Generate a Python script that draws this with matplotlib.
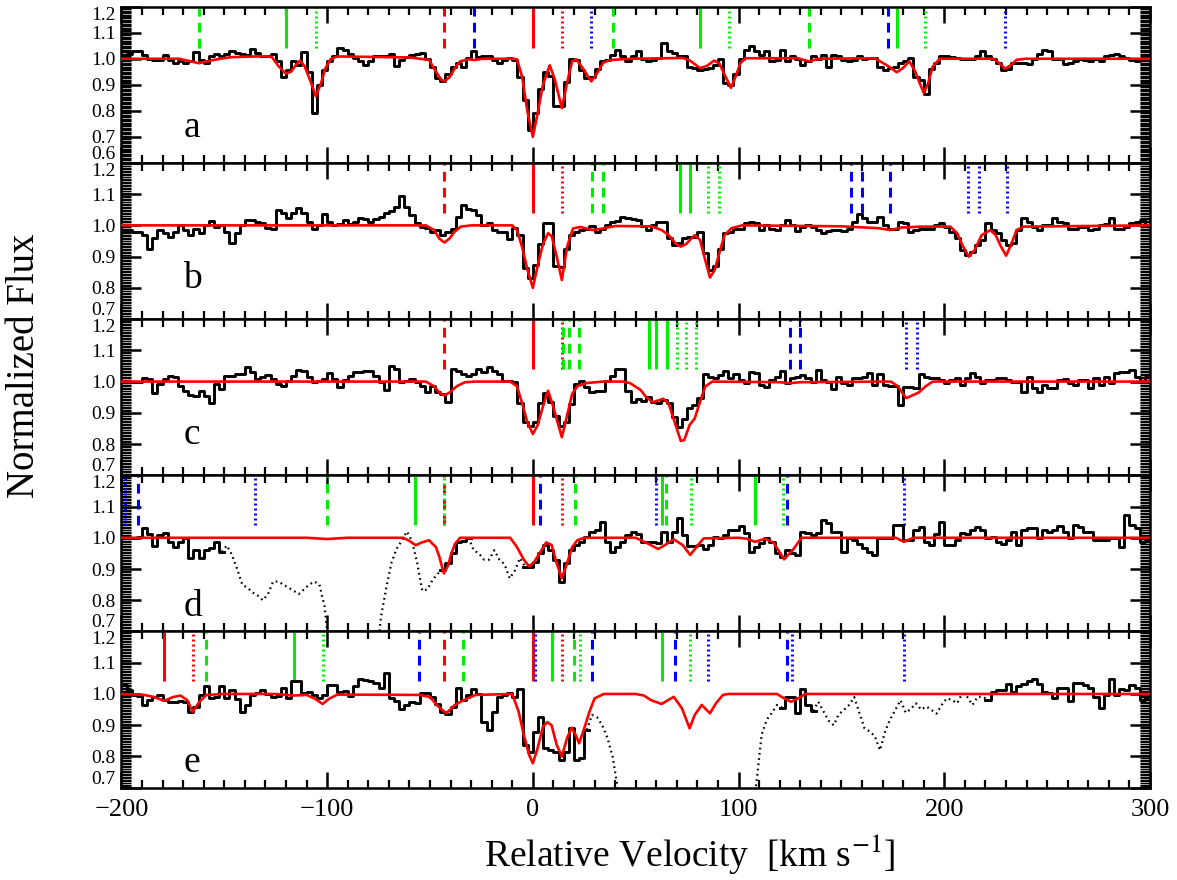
import matplotlib.pyplot as plt
import numpy as np
from matplotlib.ticker import MultipleLocator

plt.rcParams["font.family"] = ["Liberation Serif", "DejaVu Serif"]
plt.rcParams["mathtext.fontset"] = "stix"
plt.rcParams["lines.scale_dashes"] = False

# bin centres of the rebinned spectra (km/s)
velocity = np.arange(-198.75, 300, 2.5)

flux_a = [
    1.00, 1.02, 1.03, 1.03, 1.015, 1.00, 0.995, 0.995, 1.015, 0.995,
    0.985, 0.993, 0.985, 0.99, 1.025, 0.997, 0.985, 1.01, 1.02, 1.012,
    1.02, 1.028, 1.022, 1.02, 1.016, 1.036, 1.022, 1.012, 1.012, 1.018,
    0.99, 0.93, 0.955, 0.99, 0.975, 1.025, 0.95, 0.79, 0.90, 0.955,
    0.99, 1.01, 1.04, 1.035, 1.02, 1.003, 0.99, 0.977, 0.99, 1.012,
    1.01, 1.01, 1.02, 0.973, 0.997, 1.005, 1.015, 1.018, 1.024, 1.0,
    0.97, 0.925, 0.913, 0.94, 0.967, 0.985, 0.97, 1.003, 1.028, 1.008,
    1.01, 1.01, 0.997, 0.985, 0.997, 1.003, 0.995, 0.93, 0.84, 0.727,
    0.79, 0.883, 0.95, 0.935, 0.82, 0.817, 0.91, 1.0, 0.997, 0.955,
    0.925, 0.93, 0.96, 0.99, 0.997, 1.015, 1.034, 1.01, 0.99, 1.01,
    1.028, 1.0, 0.99, 0.997, 1.003, 1.06, 1.028, 1.022, 1.01, 1.01,
    0.97, 0.965, 0.958, 0.96, 0.965, 0.975, 1.0, 0.907, 0.90, 0.94,
    1.0, 1.034, 1.05, 1.028, 1.015, 1.028, 0.99, 0.997, 1.032, 0.99,
    1.01, 1.0, 0.975, 0.99, 1.01, 1.0, 1.015, 0.97, 1.015, 1.01,
    0.997, 0.99, 0.997, 1.01, 1.0, 1.003, 1.003, 0.97, 0.955, 0.963,
    0.97, 0.985, 0.99, 1.003, 0.93, 0.92, 0.866, 0.96, 0.985, 1.01,
    1.012, 1.006, 1.003, 1.0, 1.0, 1.0, 1.01, 1.028, 1.01, 1.0,
    0.985, 0.958, 0.96, 0.985, 0.985, 0.982, 0.98, 1.0, 1.02, 1.034,
    1.03, 1.0, 1.0, 0.98, 0.985, 0.99, 1.0, 0.997, 0.99, 1.0,
    0.99, 1.01, 1.015, 1.02, 1.01, 1.003, 0.997, 0.99, 1.0, 1.0,
]

flux_b = [
    0.985, 0.985, 0.98, 0.98, 0.97, 0.923, 0.96, 0.985, 0.975, 0.962,
    0.98, 1.0, 0.985, 0.97, 0.99, 0.975, 1.0, 1.014, 0.995, 1.0,
    0.98, 0.942, 0.975, 1.0, 1.018, 1.018, 1.012, 1.007, 0.992, 0.99,
    1.05, 1.04, 1.023, 1.04, 1.055, 1.04, 1.01, 0.99, 1.0, 1.037,
    1.012, 1.0, 1.006, 1.018, 1.006, 1.012, 1.023, 1.02, 1.012, 1.02,
    1.028, 1.04, 1.045, 1.06, 1.093, 1.06, 1.034, 1.007, 0.996, 0.993,
    0.98, 0.986, 0.97, 0.978, 0.99, 1.028, 1.066, 1.052, 1.05, 1.034,
    1.0, 1.007, 0.985, 0.98, 0.978, 0.957, 0.992, 0.97, 0.862, 0.83,
    0.873, 0.94, 1.007, 1.007, 0.87, 0.867, 0.925, 0.97, 0.98, 0.985,
    0.99, 0.997, 0.98, 0.99, 1.0, 1.012, 1.015, 1.028, 1.023, 1.02,
    1.017, 0.998, 0.985, 1.0, 1.012, 1.012, 0.96, 0.937, 0.943, 0.96,
    0.964, 0.964, 0.98, 0.91, 0.857, 0.87, 0.923, 0.975, 0.98, 0.99,
    0.99, 1.007, 1.012, 1.007, 0.985, 1.0, 0.99, 0.985, 1.0, 1.018,
    1.0, 0.983, 0.996, 1.0, 0.996, 0.985, 0.975, 0.983, 0.985, 0.985,
    0.983, 0.99, 1.012, 1.036, 1.023, 1.012, 1.012, 1.028, 1.0, 0.99,
    0.99, 1.012, 1.007, 0.98, 0.985, 0.99, 0.99, 0.99, 1.0, 1.008,
    0.996, 0.98, 0.96, 0.92, 0.905, 0.916, 0.937, 0.953, 1.007, 0.985,
    0.975, 0.953, 0.937, 0.943, 0.985, 1.023, 1.012, 0.996, 0.985, 1.0,
    1.0, 1.023, 1.012, 1.007, 0.99, 0.99, 0.996, 0.996, 0.985, 0.99,
    1.0, 1.005, 1.023, 0.99, 0.99, 0.996, 1.007, 1.012, 1.018, 1.0,
]

flux_c = [
    0.998, 0.998, 0.998, 0.998, 1.01, 1.009, 0.964, 0.993, 1.009, 1.017,
    1.014, 0.987, 0.971, 0.957, 0.955, 0.971, 0.953, 0.932, 0.993, 0.976,
    1.017, 1.017, 1.025, 1.025, 1.046, 1.03, 1.009, 1.014, 1.021, 1.009,
    0.993, 0.987, 1.003, 1.019, 1.038, 1.035, 1.014, 0.998, 1.003, 1.009,
    1.028, 1.009, 0.982, 1.006, 1.017, 1.032, 1.032, 1.035, 1.035, 1.017,
    1.0, 0.974, 1.051, 1.04, 0.998, 1.003, 1.009, 0.998, 0.987, 0.968,
    0.987, 0.968, 0.96, 0.936, 1.04, 1.035, 1.025, 1.019, 1.025, 1.04,
    1.03, 1.046, 1.035, 1.025, 1.003, 1.003, 0.998, 0.93, 0.87, 0.859,
    0.87, 0.932, 0.964, 0.935, 0.891, 0.859, 0.872, 0.928, 0.993, 1.003,
    0.982, 0.968, 0.971, 0.971, 1.003, 1.019, 1.04, 1.04, 0.97, 0.936,
    0.944, 0.939, 0.952, 0.934, 0.931, 0.941, 0.931, 0.888, 0.856, 0.88,
    0.915, 0.925, 0.947, 1.024, 1.016, 1.011, 1.021, 1.034, 1.011, 1.024,
    1.005, 0.995, 1.03, 1.027, 0.989, 0.984, 1.005, 1.016, 1.034, 0.995,
    1.011, 1.016, 1.021, 1.011, 1.0, 1.037, 1.005, 1.0, 0.976, 1.016,
    0.995, 0.989, 1.011, 1.011, 1.016, 1.027, 0.989, 1.024, 0.989, 0.987,
    0.987, 0.925, 0.984, 0.984, 0.979, 1.024, 1.016, 1.011, 1.011, 1.005,
    0.995, 1.005, 1.011, 0.989, 1.011, 1.027, 1.016, 0.995, 1.005, 1.005,
    1.011, 1.013, 1.005, 1.0, 1.0, 0.968, 1.016, 0.981, 0.966, 0.989,
    0.981, 0.981, 1.005, 1.009, 0.995, 0.989, 1.005, 1.005, 0.981, 1.011,
    0.989, 1.016, 0.995, 1.027, 1.03, 1.03, 1.037, 1.016, 1.0, 1.016,
]

flux_d = [
    1.0, 1.0, 1.0, 1.003, 1.032, 1.013, 0.973, 1.008, 1.016, 0.987,
    0.97, 0.987, 1.0, 0.934, 0.96, 0.936, 0.96, 0.967, 0.987, 0.955,
    0.975, 0.945, 0.90, 0.85, 0.84, 0.825, 0.815, 0.80, 0.82, 0.86,
    0.86, 0.85, 0.84, 0.83, 0.82, 0.835, 0.85, 0.86, 0.85, 0.78,
    0.62, 0.55, 0.55, 0.55, 0.55, 0.55, 0.55, 0.55, 0.55, 0.60,
    0.75, 0.84, 0.92, 0.965, 0.99, 1.02, 0.99, 0.92, 0.83, 0.835,
    0.865, 0.885, 0.898, 0.918, 0.95, 0.985, 0.99, 1.0, 0.96, 0.95,
    0.93, 0.93, 0.96, 0.93, 0.915, 0.87, 0.895, 0.935, 0.907, 0.907,
    0.923, 0.95, 0.976, 0.962, 0.93, 0.86, 0.92, 0.96, 0.976, 0.987,
    1.003, 1.019, 1.024, 1.05, 0.987, 0.955, 0.97, 0.987, 1.008, 1.02,
    1.013, 0.987, 0.987, 0.987, 0.982, 1.019, 0.987, 1.019, 1.062, 1.008,
    0.973, 0.973, 0.977, 0.963, 0.977, 1.003, 0.998, 1.008, 1.024, 1.024,
    1.037, 1.014, 0.955, 0.971, 0.982, 0.998, 0.987, 0.95, 0.94, 0.961,
    0.95, 0.945, 1.019, 1.014, 1.008, 1.014, 1.058, 1.046, 1.019, 1.019,
    0.955, 0.998, 0.993, 0.98, 0.966, 0.955, 0.945, 0.998, 0.998, 0.998,
    1.04, 1.04, 0.993, 0.993, 1.024, 1.033, 0.987, 0.977, 1.012, 1.051,
    0.977, 0.977, 0.993, 1.014, 1.012, 1.024, 1.033, 1.024, 0.998, 1.003,
    0.987, 0.98, 0.993, 1.019, 0.977, 1.024, 1.03, 1.03, 0.998, 1.024,
    1.019, 1.024, 1.037, 1.019, 0.998, 1.04, 1.033, 1.019, 1.019, 0.993,
    0.993, 0.993, 0.998, 1.0, 0.971, 1.072, 1.04, 1.03, 0.987, 0.99,
]

flux_e = [
    1.029, 1.013, 0.997, 0.995, 0.965, 0.981, 0.991, 0.997, 0.981, 0.973,
    0.973, 0.978, 0.973, 0.943, 0.959, 0.997, 1.024, 0.988, 0.991, 1.024,
    0.988, 1.013, 0.984, 0.941, 0.965, 0.997, 1.002, 1.013, 0.999, 0.991,
    0.995, 1.018, 0.988, 1.04, 1.042, 1.002, 1.007, 0.997, 0.986, 0.997,
    1.029, 1.029, 1.007, 1.01, 0.995, 1.024, 1.048, 1.045, 1.042, 1.034,
    1.02, 1.066, 0.986, 0.978, 0.952, 0.965, 0.973, 0.97, 1.002, 1.002,
    0.991, 0.967, 0.943, 0.935, 0.959, 1.018, 0.981, 0.997, 1.016, 0.999,
    0.911, 0.885, 0.943, 0.991, 0.997, 1.002, 0.991, 1.016, 0.837, 0.815,
    0.879, 0.927, 0.826, 0.821, 0.815, 0.788, 0.815, 0.89, 0.79, 0.794,
    0.885, 0.933, 0.925, 0.90, 0.86, 0.80, 0.70, 0.62, 0.55, 0.55,
    0.55, 0.55, 0.55, 0.55, 0.55, 0.55, 0.55, 0.55, 0.55, 0.55,
    0.55, 0.55, 0.55, 0.55, 0.55, 0.55, 0.55, 0.55, 0.55, 0.55,
    0.55, 0.55, 0.60, 0.72, 0.87, 0.918, 0.94, 0.965, 0.956, 0.991,
    0.991, 0.938, 1.016, 0.965, 0.946, 0.975, 0.945, 0.915, 0.90, 0.935,
    0.949, 0.965, 0.99, 0.94, 0.89, 0.88, 0.865, 0.82, 0.88, 0.92,
    0.949, 0.98, 0.94, 0.952, 0.97, 0.95, 0.96, 0.949, 0.937, 0.965,
    0.986, 0.981, 0.97, 1.002, 0.99, 0.965, 0.991, 0.991, 0.981, 1.007,
    1.013, 1.013, 1.031, 1.007, 1.024, 1.031, 1.04, 1.048, 1.031, 1.007,
    1.002, 0.988, 1.02, 1.018, 0.978, 1.034, 1.034, 1.029, 1.02, 0.991,
    0.954, 0.997, 1.048, 0.997, 1.016, 1.013, 1.029, 1.02, 0.981, 0.99,
]

# velocity ranges blended with other absorption, shown dotted
blended_d = [(-148.75, -46.25), (-28.75, -6.25)]
blended_e = [(28.75, 118.75), (138.75, 218.75)]

# fitted profiles as (velocity, normalized flux)
model_a = [
    (-200, 1.0), (-172, 1.0), (-162.4, 0.983), (-155, 0.996), (-147, 1.006),
    (-130, 1.01), (-126.8, 1.006), (-123.5, 0.97), (-120.1, 0.943), (-117.6, 0.95),
    (-115.1, 0.977), (-113.1, 0.993), (-110.9, 0.97), (-108.4, 0.92), (-105.5, 0.856),
    (-103, 0.906), (-100.8, 0.964), (-98.3, 0.999), (-95, 1.009), (-60, 1.005),
    (-50.5, 0.996), (-47.1, 0.95), (-44.6, 0.92), (-43, 0.913), (-40.4, 0.93),
    (-37.9, 0.964), (-35.4, 0.99), (-31.2, 0.998), (-28.4, 0.995), (-24.5, 1.0),
    (-10, 1.0), (-7.7, 0.998), (-5.2, 0.93), (-2.7, 0.80), (0, 0.70),
    (2.3, 0.79), (4.9, 0.90), (8.2, 0.975), (10.7, 0.92), (14.1, 0.81),
    (16.6, 0.907), (19.1, 0.99), (21.1, 0.998), (24.2, 0.965), (28.4, 0.913),
    (30.9, 0.94), (34.2, 0.985), (37.6, 0.995), (47.3, 1.0), (72.8, 1.003),
    (76.2, 0.994), (81.3, 0.964), (84.7, 0.973), (88.1, 0.993), (90.6, 0.983),
    (93.2, 0.939), (96.3, 0.888), (98.3, 0.926), (100.9, 0.983), (103.4, 1.002),
    (128.9, 1.002), (134.2, 0.99), (139.1, 1.0), (166.3, 1.002), (173.1, 0.97),
    (176.9, 0.948), (179.9, 0.964), (183, 0.99), (185.9, 0.951), (188.4, 0.9),
    (190.1, 0.868), (192.2, 0.907), (194.4, 0.97), (197.8, 1.0), (224.1, 1.0),
    (226.7, 0.983), (229.6, 0.962), (232.7, 0.977), (235.2, 0.996), (239.5, 1.0),
    (300, 1.0),
]

model_b = [
    (-200, 1.0), (-52, 1.0), (-48, 0.985), (-45.5, 0.958), (-43, 0.945),
    (-40.5, 0.958), (-38, 0.98), (-35, 0.996), (-30, 1.0), (-10, 1.0),
    (-7.7, 0.985), (-5.2, 0.93), (-2.7, 0.86), (0, 0.80), (2.3, 0.87),
    (4.9, 0.94), (7.4, 0.975), (9.2, 0.965), (11.6, 0.90), (14.1, 0.825),
    (16.6, 0.93), (19.5, 0.99), (23, 0.995), (29, 0.985), (34, 0.99),
    (40, 0.998), (57.5, 0.997), (62.6, 0.985), (66, 0.969), (69.4, 0.942),
    (71.9, 0.932), (74.5, 0.94), (78.7, 0.969), (81.3, 0.953), (83.8, 0.889),
    (86.1, 0.833), (88.4, 0.857), (90.6, 0.91), (93.2, 0.969), (96.6, 0.991),
    (101.7, 1.0), (150, 0.997), (168, 0.991), (173.8, 0.985), (179.1, 0.993),
    (188.4, 0.996), (202.9, 0.996), (206.3, 0.975), (208.8, 0.937), (211.9, 0.90),
    (214.8, 0.921), (218.2, 0.969), (222.4, 0.985), (225, 0.969), (227.6, 0.932),
    (230.1, 0.903), (232.7, 0.942), (235.2, 0.985), (238.6, 0.996), (300, 1.0),
]

model_c = [
    (-200, 1.0), (-52, 1.0), (-48, 0.985), (-45.5, 0.965), (-43, 0.955),
    (-40.5, 0.965), (-37, 0.985), (-33, 0.998), (-28, 1.0), (-11, 1.0),
    (-7.7, 0.985), (-5.2, 0.93), (-2.7, 0.87), (0, 0.832), (2.3, 0.86),
    (4.9, 0.92), (7.4, 0.971), (9.9, 0.92), (12, 0.87), (14.1, 0.822),
    (16.6, 0.89), (19.1, 0.96), (21.6, 0.985), (25.8, 0.995), (34, 1.0),
    (44, 1.0), (47.3, 0.995), (52.4, 0.973), (54.9, 0.952), (58.3, 0.934),
    (63.4, 0.945), (66, 0.93), (69.4, 0.861), (71.9, 0.81), (73.6, 0.813),
    (76.2, 0.861), (78.7, 0.882), (81.3, 0.936), (83.8, 0.984), (87.2, 1.0),
    (120, 0.998), (125, 0.995), (130, 0.998), (174, 1.0), (177.5, 0.985),
    (180, 0.96), (181.6, 0.947), (184.2, 0.955), (187.6, 0.965), (191, 0.985),
    (194.4, 1.0), (300, 1.0),
]

model_d = [
    (-200, 1.0), (-110, 1.0), (-100, 0.996), (-90, 1.0), (-63, 1.0),
    (-60, 0.99), (-57, 0.976), (-54, 0.985), (-50.5, 0.992), (-47.1, 0.97),
    (-45.5, 0.94), (-43.3, 0.886), (-41.3, 0.91), (-39.6, 0.95), (-37.9, 0.98),
    (-35.4, 1.0), (-11, 1.0), (-7.7, 0.97), (-4.4, 0.93), (-1.8, 0.908),
    (0.7, 0.923), (3.7, 0.955), (6.5, 0.985), (9.1, 0.977), (11.6, 0.918),
    (14.1, 0.87), (16.6, 0.918), (19.1, 0.97), (21.6, 0.992), (25, 1.0),
    (50, 1.0), (55.8, 0.982), (60.9, 0.964), (64.3, 0.977), (68.5, 0.995),
    (72.8, 0.977), (76.5, 0.945), (80.4, 0.977), (83, 0.998), (100, 1.0),
    (104, 0.997), (108, 0.987), (112.8, 0.997), (117, 0.985), (122.1, 0.931),
    (126.4, 0.961), (130.6, 1.0), (176.5, 1.0), (180.4, 0.987), (185, 1.0),
    (300, 1.0),
]

model_e = [
    (-200, 1.0), (-189, 0.997), (-184, 0.99), (-179.2, 0.978), (-175, 0.99),
    (-171.3, 0.995), (-168, 0.98), (-165.4, 0.943), (-162.1, 0.975), (-158.7, 0.997),
    (-150, 1.0), (-125, 1.0), (-116.3, 0.995), (-110, 0.997), (-106, 0.985),
    (-102.2, 0.968), (-99, 0.985), (-95, 0.998), (-55, 0.997), (-50, 0.99),
    (-46, 0.96), (-42.1, 0.938), (-37.9, 0.965), (-33.7, 0.98), (-27.9, 0.997),
    (-10, 1.0), (-6.9, 0.943), (-4.4, 0.869), (-1.8, 0.805), (0, 0.778),
    (2.3, 0.826), (4.9, 0.895), (7, 0.91), (9.1, 0.90), (11.6, 0.837),
    (14.1, 0.80), (16.6, 0.858), (18.8, 0.892), (20.8, 0.869), (22.5, 0.842),
    (25, 0.89), (27.5, 0.943), (30, 0.986), (34.5, 1.0), (50, 1.0),
    (54, 0.995), (57.5, 0.98), (62.6, 0.968), (68.5, 0.991), (72.5, 0.954),
    (76.2, 0.89), (78.7, 0.933), (82.1, 0.965), (86.1, 0.938), (89, 0.97),
    (92.4, 0.997), (95, 1.0), (118.7, 1.0), (122.1, 0.986), (125.5, 0.975),
    (129, 0.986), (132.5, 1.0), (300, 1.0),
]

# component positions: (velocity, colour, line style)
components_a = [
    (-162.4, "g", "dashed"), (-119.8, "g", "solid"), (-105.5, "g", "dotted"),
    (-43.0, "r", "dashed"), (-28.4, "b", "dashed"), (0.0, "r", "solid"),
    (14.1, "r", "dotted"), (28.4, "b", "dotted"), (38.9, "g", "dashed"),
    (81.3, "g", "solid"), (95.4, "g", "dotted"), (134.2, "g", "dashed"),
    (172.8, "b", "dashed"), (176.9, "g", "solid"), (190.6, "g", "dotted"),
    (229.6, "b", "dotted"),
]
components_b = [
    (-43.0, "r", "dashed"), (0.0, "r", "solid"), (14.1, "r", "dotted"),
    (28.9, "g", "dashed"), (34.2, "g", "dashed"), (71.4, "g", "solid"),
    (76.5, "g", "solid"), (85.0, "g", "dotted"), (90.6, "g", "dotted"),
    (154.8, "b", "dashed"), (160.0, "b", "dashed"), (173.8, "b", "dashed"),
    (211.7, "b", "dotted"), (216.8, "b", "dotted"), (230.6, "b", "dotted"),
]
components_c = [
    (-43.0, "r", "dashed"), (0.0, "r", "solid"), (14.1, "r", "dotted"),
    (14.5, "g", "dashed"), (17.4, "g", "dashed"), (22.5, "g", "dashed"),
    (56.6, "g", "solid"), (60.0, "g", "solid"), (65.1, "g", "solid"),
    (70.2, "g", "dotted"), (74.5, "g", "dotted"), (79.3, "g", "dotted"),
    (125.0, "b", "dashed"), (130.1, "b", "dashed"),
    (181.6, "b", "dotted"), (186.7, "b", "dotted"),
]
components_d = [
    (-198.1, "b", "dotted"), (-191.8, "b", "dashed"), (-135.2, "b", "dotted"),
    (-100.0, "g", "dashed"), (-57.2, "g", "solid"), (-43.0, "r", "dashed"),
    (-43.3, "g", "dotted"), (0.0, "r", "solid"), (3.7, "b", "dashed"),
    (14.1, "r", "dotted"), (20.5, "g", "dashed"), (60.0, "b", "dotted"),
    (62.6, "g", "solid"), (64.8, "g", "dashed"), (76.7, "g", "dotted"),
    (108.0, "g", "solid"), (121.8, "g", "dotted"), (123.5, "b", "dashed"),
    (180.4, "b", "dotted"),
]
components_e = [
    (-179.2, "r", "solid"), (-165.4, "r", "dotted"), (-158.7, "g", "dashed"),
    (-116.3, "g", "solid"), (-102.2, "g", "dotted"), (-55.5, "b", "dashed"),
    (-43.0, "r", "dashed"), (-34.2, "g", "dashed"), (0.0, "r", "solid"),
    (1.0, "b", "dotted"), (9.1, "g", "solid"), (14.1, "r", "dotted"),
    (20.0, "g", "dashed"), (22.8, "g", "dotted"), (28.9, "b", "dashed"),
    (62.6, "g", "solid"), (69.0, "b", "dashed"), (76.5, "g", "dotted"),
    (85.0, "b", "dotted"), (123.5, "b", "dashed"), (125.9, "b", "dotted"),
    (180.3, "b", "dotted"),
]

panel_letters = ["a", "b", "c", "d", "e"]
letter_heights = [0.70, 0.80, 0.80, 0.75, 0.75]
flux_ranges = [(0.6, 1.2), (0.7, 1.2), (0.7, 1.2), (0.7, 1.2), (0.7, 1.2)]

COLOURS = {"r": "#ff0000", "g": "#00ee00", "b": "#0000ff"}
STYLES = {"solid": "-", "dashed": (0, (7, 4.5)), "dotted": (0, (1.4, 2.2))}


def draw_spectrum(ax, flux, blended):
    flux = np.asarray(flux, dtype=float)
    bad = np.zeros(flux.size, dtype=bool)
    for lo, hi in blended:
        bad |= (velocity > lo - 0.1) & (velocity < hi + 0.1)
    ax.plot(velocity, np.where(bad, np.nan, flux), drawstyle="steps-mid",
            color="black", lw=2.1, zorder=3)
    if bad.any():
        # extend each blended stretch by one bin so it joins the histogram
        edge = bad | np.roll(bad, 1) | np.roll(bad, -1)
        ax.plot(velocity, np.where(edge, flux, np.nan), color="black",
                lw=1.6, ls=(0, (1.2, 2.6)), zorder=3)


def style_axes(ax, lo, hi, bottom):
    ax.set_xlim(-200, 300)
    ax.set_ylim(lo, hi)
    ax.xaxis.set_major_locator(MultipleLocator(100))
    ax.xaxis.set_minor_locator(MultipleLocator(10))
    ax.yaxis.set_minor_locator(MultipleLocator(0.005))
    ticks = np.round(np.arange(lo, hi + 0.001, 0.1), 1)
    ax.set_yticks(ticks, labels=[f"{t:.1f}" for t in ticks])
    ax.tick_params(axis="both", which="both", direction="in",
                   top=True, bottom=True, left=True, right=True)
    ax.tick_params(axis="x", which="major", length=11.5, width=1.8,
                   labelsize=19, pad=8, labelbottom=bottom)
    ax.tick_params(axis="x", which="minor", length=5.8, width=1.6)
    ax.tick_params(axis="y", which="major", length=14.4, width=1.8,
                   labelsize=14, pad=4)
    ax.tick_params(axis="y", which="minor", length=7.5, width=1.0)
    for spine in ax.spines.values():
        spine.set_linewidth(1.8)
    labels = ax.yaxis.get_majorticklabels()
    labels[0].set_verticalalignment("bottom")
    labels[-1].set_verticalalignment("top")


fluxes = [flux_a, flux_b, flux_c, flux_d, flux_e]
models = [model_a, model_b, model_c, model_d, model_e]
components = [components_a, components_b, components_c, components_d, components_e]
blends = [[], [], [], blended_d, blended_e]

fig = plt.figure(figsize=(11.77, 8.80), dpi=100)
left, width = 0.1032, 0.8738
top, height = 0.99239, 0.1775

for k in range(5):
    ax = fig.add_axes([left, top - height * (k + 1), width, height])
    lo, hi = flux_ranges[k]
    for v, c, s in components[k]:
        ax.plot([v, v], [1.04, 1.197], color=COLOURS[c], ls=STYLES[s],
                lw=2.2, solid_capstyle="butt", zorder=2)
    draw_spectrum(ax, fluxes[k], blends[k])
    mv, mf = np.array(models[k]).T
    ax.plot(mv, mf, color="#ff0000", lw=1.9, zorder=4)
    ax.text(-170, letter_heights[k], panel_letters[k], fontsize=27,
            ha="left", va="baseline")
    style_axes(ax, lo, hi, bottom=(k == 4))

fig.text(25 / 1177, 1 - 366 / 880, "Normalized Flux", rotation=90,
         fontsize=28, ha="center", va="center")
fig.text(690 / 1177, 1 - 855 / 880, r"Relative Velocity  [km s$^{-1}$]",
         fontsize=27, ha="center", va="center")

fig.savefig("out.png", dpi=100)
